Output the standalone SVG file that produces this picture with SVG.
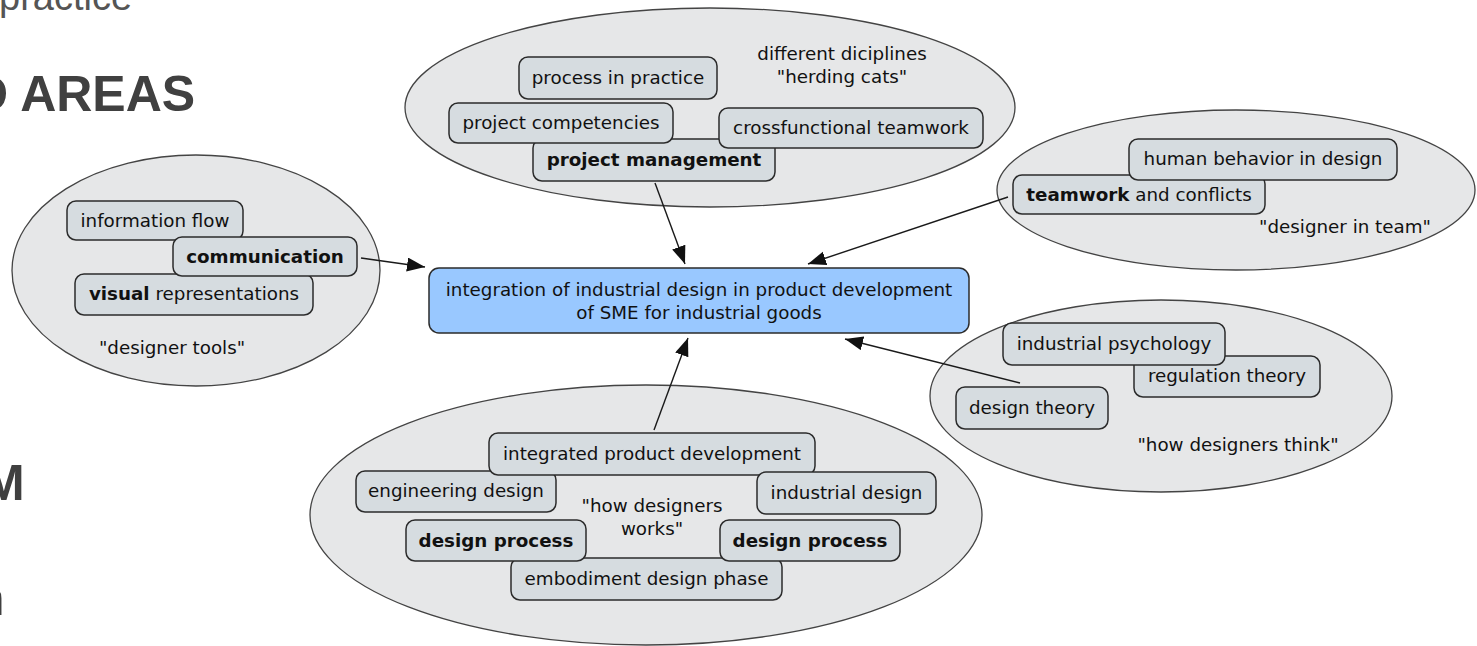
<svg xmlns="http://www.w3.org/2000/svg" width="1477" height="646" viewBox="0 0 1477 646">
<style>
.bg{font-family:"Liberation Sans",Arial,sans-serif;fill:#404040;font-weight:bold;font-size:50px}
.ell{fill:#e6e7e8;stroke:#444;stroke-width:1.3}
.box{fill:#d6dce0;stroke:#2b2b2b;stroke-width:1.5}
.main{fill:#99c8ff;stroke:#2b2b2b;stroke-width:1.5}
.t{font-family:"DejaVu Sans",Verdana,sans-serif;font-size:18.3px;fill:#111;text-anchor:middle}
.b{font-weight:bold}
.con{stroke:#1a1a1a;stroke-width:1.4;fill:none;marker-end:url(#arr)}
</style>
<defs>
<marker id="arr" markerUnits="userSpaceOnUse" markerWidth="20" markerHeight="16" refX="18" refY="7" orient="auto" viewBox="0 0 20 16">
<path d="M0,0 L18,7 L0,14 z" fill="#111"/>
</marker>
</defs>
<rect width="1477" height="646" fill="#fff"/>
<g id="background-text">
<text x="-1" y="10" font-family="Liberation Sans,Arial,sans-serif" font-size="38" fill="#555">practice</text>
<text class="bg" x="-28" y="111">D AREAS</text>
<text class="bg" x="-17" y="500">M</text>
<text class="bg" x="-26" y="615">n</text>
</g>
<g id="clusters">
<ellipse id="cluster-top" class="ell" cx="710" cy="107.5" rx="305" ry="99.5"/>
<ellipse id="cluster-right-top" class="ell" cx="1236" cy="190" rx="239" ry="80"/>
<ellipse id="cluster-left" class="ell" cx="196" cy="270.5" rx="184" ry="115.5"/>
<ellipse id="cluster-right-bottom" class="ell" cx="1161" cy="396" rx="231" ry="96"/>
<ellipse id="cluster-bottom" class="ell" cx="646" cy="515" rx="336" ry="130"/>
</g>
<g id="connectors">
<line class="con" x1="361" y1="258" x2="425" y2="267"/>
<line class="con" x1="655" y1="183" x2="685" y2="264"/>
<line class="con" x1="1008" y1="197" x2="808" y2="264"/>
<line class="con" x1="1020" y1="383" x2="845" y2="339"/>
<line class="con" x1="654" y1="430" x2="688" y2="338"/>
</g>
<g id="top-group">
<text class="t" x="842" y="60">different diciplines</text>
<text class="t" x="842" y="83">"herding cats"</text>
<g id="n-project-management"><rect class="box" x="533" y="139" width="242" height="42" rx="9"/><text class="t b" x="654" y="166">project management</text></g>
<g id="n-process-in-practice"><rect class="box" x="519" y="57" width="198" height="42" rx="9"/><text class="t" x="618" y="84">process in practice</text></g>
<g id="n-project-competencies"><rect class="box" x="449" y="103" width="224" height="40" rx="9"/><text class="t" x="561" y="129">project competencies</text></g>
<g id="n-crossfunctional"><rect class="box" x="719" y="108" width="264" height="40" rx="9"/><text class="t" x="851" y="134">crossfunctional teamwork</text></g>
</g>
<g id="right-top-group">
<g id="n-teamwork"><rect class="box" x="1013" y="175" width="252" height="39" rx="9"/><text class="t" x="1139" y="201"><tspan class="b">teamwork</tspan> and conflicts</text></g>
<g id="n-human-behavior"><rect class="box" x="1129" y="139" width="268" height="41" rx="9"/><text class="t" x="1263" y="165">human behavior in design</text></g>
<text class="t" x="1345" y="233">"designer in team"</text>
</g>
<g id="left-group">
<g id="n-information-flow"><rect class="box" x="67" y="201" width="176" height="39" rx="9"/><text class="t" x="155" y="227">information flow</text></g>
<g id="n-visual"><rect class="box" x="75" y="274" width="238" height="41" rx="9"/><text class="t" x="194" y="300"><tspan class="b">visual</tspan> representations</text></g>
<g id="n-communication"><rect class="box" x="173" y="237" width="184" height="39" rx="9"/><text class="t b" x="265" y="263">communication</text></g>
<text class="t" x="172" y="354">"designer tools"</text>
</g>
<g id="right-bottom-group">
<g id="n-regulation-theory"><rect class="box" x="1134" y="356" width="186" height="41" rx="9"/><text class="t" x="1227" y="382">regulation theory</text></g>
<g id="n-industrial-psychology"><rect class="box" x="1003" y="323" width="222" height="42" rx="9"/><text class="t" x="1114" y="350">industrial psychology</text></g>
<g id="n-design-theory"><rect class="box" x="956" y="387" width="152" height="42" rx="9"/><text class="t" x="1032" y="414">design theory</text></g>
<text class="t" x="1238" y="451">"how designers think"</text>
</g>
<g id="bottom-group">
<g id="n-engineering-design"><rect class="box" x="356" y="471" width="200" height="41" rx="9"/><text class="t" x="456" y="497">engineering design</text></g>
<g id="n-integrated"><rect class="box" x="489" y="433" width="326" height="42" rx="9"/><text class="t" x="652" y="460">integrated product development</text></g>
<g id="n-industrial-design"><rect class="box" x="757" y="472" width="179" height="42" rx="9"/><text class="t" x="846.5" y="499">industrial design</text></g>
<g id="n-embodiment"><rect class="box" x="511" y="558" width="271" height="42" rx="9"/><text class="t" x="646.5" y="585">embodiment design phase</text></g>
<g id="n-design-process-1"><rect class="box" x="406" y="520" width="180" height="41" rx="9"/><text class="t b" x="496" y="547">design process</text></g>
<g id="n-design-process-2"><rect class="box" x="720" y="520" width="180" height="41" rx="9"/><text class="t b" x="810" y="547">design process</text></g>
<text class="t" x="652" y="512">"how designers</text>
<text class="t" x="652" y="535">works"</text>
</g>
<g id="n-main">
<rect class="main" x="429" y="268" width="540" height="65" rx="10"/>
<text class="t" x="699" y="296">integration of industrial design in product development</text>
<text class="t" x="699" y="319">of SME for industrial goods</text>
</g>
</svg>
